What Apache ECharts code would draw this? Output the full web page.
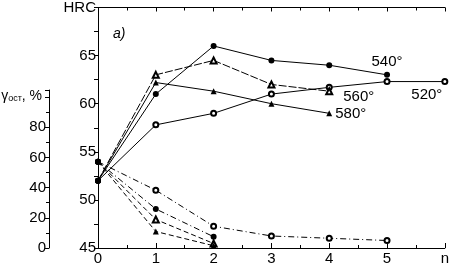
<!DOCTYPE html>
<html>
<head>
<meta charset="utf-8">
<script src="https://cdn.jsdelivr.net/npm/echarts@6/dist/echarts.min.js"></script>
<style>
  html, body { margin: 0; padding: 0; background: #fff; }
  #chart { width: 452px; height: 268px; }
</style>
</head>
<body>
<div id="chart"></div>
<script>
// число отпусков n
var steps = [0, 1, 2, 3, 4, 5, 6];

// твёрдость HRC по температурам отпуска
var hrc520 = [52, 57.8, 59, 61, 61.7, 62.3, 62.3];
var hrc540 = [52, 61, 66, 64.5, 64, 63];
var hrc560 = [52, 63, 64.5, 62, 61.3];
var hrc580 = [52, 62.2, 61.3, 60, 59];

// остаточный аустенит, %
var gam520 = [57.5, 38.5, 14.5, 8, 6.5, 5];
var gam540 = [57.5, 26, 7.5];
var gam560 = [57.5, 19, 3];
var gam580 = [57.5, 11, 1.5];

var labels = ['520°', '540°', '560°', '580°'];

var FONT = 'Liberation Sans';
var black = '#000';

function pts(arr) {
    return arr.map(function (v, i) {
        var item = {value: [steps[i], v]};
        if (i === 0) { item.symbol = 'circle'; item.symbolSize = 6; }
        return item;
    });
}

function withLabel(data, idx, text, lbl) {
    data[idx].label = Object.assign({
        show: true, formatter: text, color: black,
        fontFamily: FONT, fontSize: 15
    }, lbl);
    return data;
}

function hrcSeries(arr, symbol, size, text, idx, lbl, dash) {
    return {
        type: 'line', xAxisIndex: 0, yAxisIndex: 0,
        data: withLabel(pts(arr), idx, text, lbl),
        symbol: symbol, symbolSize: size,
        lineStyle: {color: black, width: 1, type: dash || 'solid'},
        itemStyle: {color: black, borderWidth: 1},
        label: {show: false},
        z: 3, animation: false
    };
}

function gamSeries(arr, symbol, size, dash) {
    return {
        type: 'line', xAxisIndex: 0, yAxisIndex: 2,
        data: pts(arr),
        symbol: symbol, symbolSize: size,
        lineStyle: {color: black, width: 1, type: dash},
        itemStyle: {color: black, borderWidth: 1},
        z: 2, animation: false
    };
}

var tickStyle = {color: black, width: 1};
var axisFont = {color: black, fontFamily: FONT, fontSize: 15};

var option = {
    backgroundColor: '#fff',
    title: {
        text: 'a)', left: 108, top: 22,
        textStyle: {fontFamily: FONT, fontSize: 14, fontStyle: 'italic', fontWeight: 'normal', color: black}
    },
    grid: [
        {left: 98, right: 5, top: 6, bottom: 20},
        {left: 49, width: 1, top: 90, bottom: 20}  // ось γ
    ],
    xAxis: [
        {
            type: 'value', gridIndex: 0, min: 0, max: 6, interval: 1,
            axisLine: {lineStyle: tickStyle},
            axisTick: {inside: true, length: 5, lineStyle: tickStyle},
            minorTick: {show: true, splitNumber: 2, length: 3, lineStyle: tickStyle},
            axisLabel: Object.assign({margin: 3, formatter: function (v) { return v === 6 ? 'n' : v; }}, axisFont),
            splitLine: {show: false}
        },
        {
            type: 'value', gridIndex: 0, position: 'top', min: 0, max: 6, interval: 1,
            axisLine: {lineStyle: tickStyle},
            axisTick: {inside: true, length: 4, lineStyle: tickStyle},
            minorTick: {show: true, splitNumber: 2, length: 3, lineStyle: tickStyle},
            axisLabel: {show: false},
            splitLine: {show: false}
        },
        {
            type: 'value', gridIndex: 1, min: 0, max: 1, show: false
        }
    ],
    yAxis: [
        {   // HRC
            type: 'value', gridIndex: 0, min: 45, max: 70, interval: 5,
            axisLine: {show: true, lineStyle: tickStyle},
            axisTick: {inside: false, length: 4, lineStyle: tickStyle},
            minorTick: {show: true, splitNumber: 2, length: 3, lineStyle: tickStyle},
            axisLabel: Object.assign({margin: 2, formatter: function (v) { return v === 70 ? 'HRC' : v; }}, axisFont),
            splitLine: {show: false}
        },
        {   // правая рамка
            type: 'value', gridIndex: 0, position: 'right', min: 45, max: 70, interval: 2.5,
            axisLine: {show: true, lineStyle: tickStyle},
            axisTick: {inside: true, length: 4, lineStyle: tickStyle},
            axisLabel: {show: false},
            splitLine: {show: false}
        },
        {   // γ в координатах основной сетки (100% на уровне y=97)
            type: 'value', gridIndex: 0, min: 0, max: 100 * 242 / 151, show: false
        },
        {   // видимая ось γ
            type: 'value', gridIndex: 1, min: 0, max: 100 * 158 / 151, interval: 20,
            name: '{g|γ}{s|ост}{g|, %}',
            nameLocation: 'end', nameGap: -6,
            nameTextStyle: {
                align: 'right', verticalAlign: 'middle', padding: [0, 7, 0, 0],
                rich: {
                    g: {fontFamily: FONT, fontSize: 14, color: black},
                    s: {fontFamily: FONT, fontSize: 9, color: black, verticalAlign: 'bottom', padding: [6, 0, 0, 0]}
                }
            },
            axisLine: {show: true, lineStyle: tickStyle},
            axisTick: {inside: false, length: 4, lineStyle: tickStyle},
            minorTick: {show: true, splitNumber: 2, length: 3, lineStyle: tickStyle},
            axisLabel: Object.assign({margin: 3, formatter: function (v) { return (v % 20 === 0 && v < 100) ? v : ''; }}, axisFont),
            splitLine: {show: false}
        }
    ],
    series: [
        hrcSeries(hrc520, 'emptyCircle', 5, labels[0], 6, {position: 'bottom', distance: 2, offset: [-18, 0]}),
        hrcSeries(hrc540, 'circle', 6, labels[1], 5, {position: 'top', distance: 2, offset: [0, 0]}),
        hrcSeries(hrc560, 'emptyTriangle', 6, labels[2], 4, {position: 'right', distance: 10, offset: [0, 6]}, [8, 2]),
        hrcSeries(hrc580, 'triangle', 6, labels[3], 4, {position: 'right', distance: 3, offset: [0, 1]}),
        gamSeries(gam520, 'emptyCircle', 5, [6, 3, 1, 3]),
        gamSeries(gam540, 'circle', 6, [6, 3, 1, 3]),
        gamSeries(gam560, 'emptyTriangle', 6, [5, 3]),
        gamSeries(gam580, 'triangle', 6, [5, 3])
    ]
};

var myChart = echarts.init(document.getElementById('chart'), null, {renderer: 'canvas'});
myChart.setOption(option);
</script>
</body>
</html>
